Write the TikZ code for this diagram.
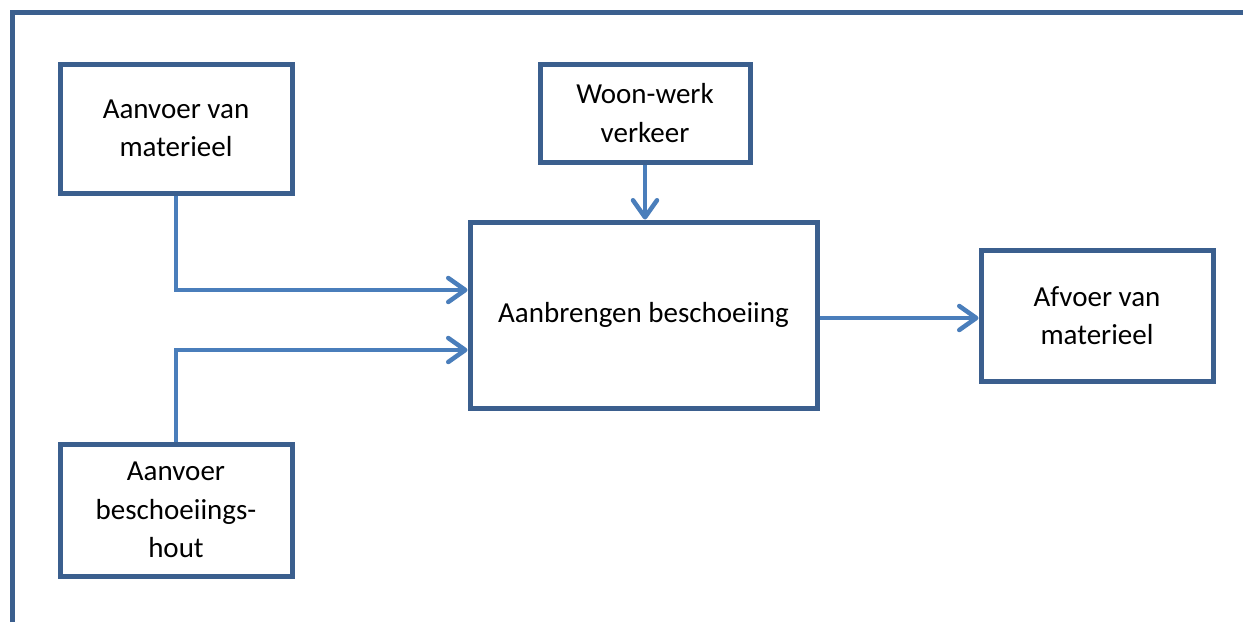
\documentclass[tikz,border=0pt]{standalone}
\usepackage{fontspec}
\setmainfont{Carlito}
\usetikzlibrary{arrows.meta}
\definecolor{frameblue}{HTML}{3B5F8E}
\definecolor{arrowblue}{HTML}{4A7EBB}
\tikzset{
  box/.style={draw=frameblue, line width=5pt, align=center, inner sep=0pt,
    font=\fontsize{29}{38.5}\selectfont, text=black},
  conn/.style={draw=arrowblue, line width=4.5pt,
    -{Straight Barb[length=17pt, width=24pt, line width=4.5pt, round]}},
}
\begin{document}
\begin{tikzpicture}[x=1pt, y=-1pt]
\useasboundingbox (0,0) rectangle (1243,622);
\draw[frameblue, line width=5pt] (12.5,622) -- (12.5,12) -- (1243,12);
\node[box, minimum width=232pt, minimum height=129pt] (mat) at (176,128.5) {Aanvoer van\\materieel};
\node[box, minimum width=210pt, minimum height=98pt] (woon) at (645,113) {Woon-werk\\verkeer};
\node[box, minimum width=347pt, minimum height=186pt] (main) at (643.5,315) {Aanbrengen beschoeiing};
\node[box, minimum width=232pt, minimum height=131pt] (afv) at (1097,315.5) {Afvoer van\\materieel};
\node[box, minimum width=232pt, minimum height=132pt] (hout) at (176,510) {Aanvoer\\beschoeiings-\\hout};
\draw[conn] (mat.south) |- (main.west |- 0,290);
\draw[conn] (hout.north) |- (main.west |- 0,350);
\draw[conn] (woon.south) -- (woon.south |- main.north);
\draw[conn] (main.east |- 0,318) -- (afv.west |- 0,318);
\end{tikzpicture}
\end{document}
